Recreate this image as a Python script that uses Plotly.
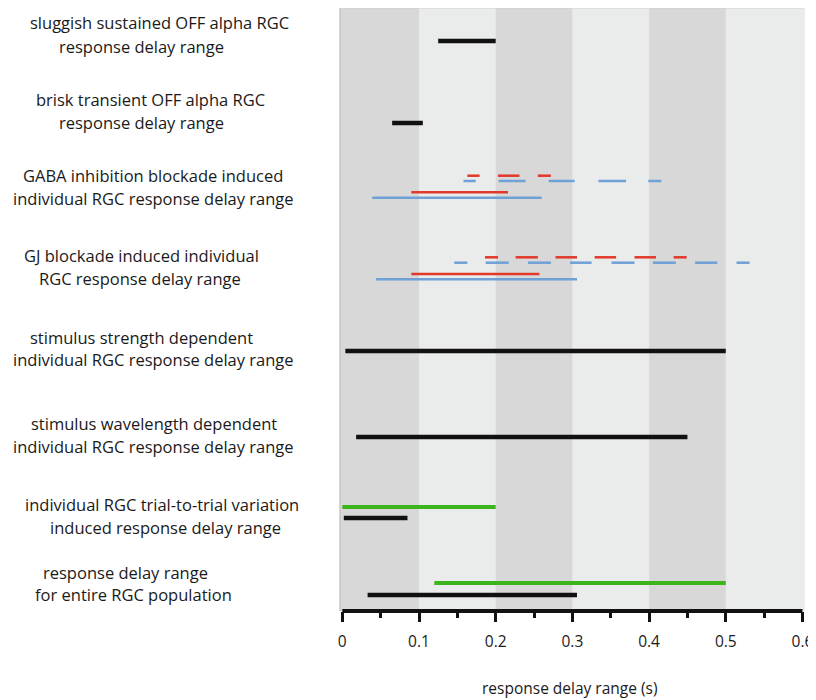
import plotly.graph_objects as go

# ---------------- data (response delay ranges, seconds) ----------------
sluggish_range = [0.125, 0.2]
brisk_range = [0.065, 0.105]

gaba_red_dash_start = [0.163, 0.203, 0.255]
gaba_red_dash_end = [0.179, 0.231, 0.272]
gaba_blue_dash_start = [0.158, 0.204, 0.269, 0.334, 0.399]
gaba_blue_dash_end = [0.174, 0.239, 0.303, 0.370, 0.416]
gaba_red_range = [0.090, 0.216]
gaba_blue_range = [0.039, 0.260]

gj_red_dash_start = [0.186, 0.226, 0.278, 0.329, 0.381, 0.432]
gj_red_dash_end = [0.203, 0.255, 0.306, 0.357, 0.409, 0.449]
gj_blue_dash_start = [0.146, 0.187, 0.242, 0.297, 0.351, 0.405, 0.460, 0.514]
gj_blue_dash_end = [0.163, 0.217, 0.272, 0.325, 0.381, 0.435, 0.489, 0.531]
gj_red_range = [0.090, 0.257]
gj_blue_range = [0.044, 0.306]

strength_range = [0.004, 0.5]
wavelength_range = [0.018, 0.45]
trial_green_range = [0.0, 0.2]
trial_black_range = [0.002, 0.085]
population_green_range = [0.12, 0.5]
population_black_range = [0.033, 0.306]

tick_values = [0, 0.1, 0.2, 0.3, 0.4, 0.5, 0.6]
tick_labels = ["0", "0.1", "0.2", "0.3", "0.4", "0.5", "0.6"]
minor_tick_values = [0.05, 0.15, 0.25, 0.35, 0.45, 0.55]
x_title = "response delay range (s)"

category_labels = [
    ["sluggish sustained OFF alpha RGC", "response delay range"],
    ["brisk transient OFF alpha RGC", "response delay range"],
    ["GABA inhibition blockade induced", "individual RGC response delay range"],
    ["GJ blockade induced individual", "RGC response delay range"],
    ["stimulus strength dependent", "individual RGC response delay range"],
    ["stimulus wavelength dependent", "individual RGC response delay range"],
    ["individual RGC trial-to-trial variation", "induced response delay range"],
    ["response delay range", "for entire RGC population"],
]

# ---------------- layout (page pixel positions, styles) ----------------
PAGE_OFF = 8                 # browser body margin around the plot div
W, H = 816 - PAGE_OFF, 700 - PAGE_OFF
PLOT_L, PLOT_R, PLOT_T, PLOT_B = 340, 805, 8, 611   # in page pixels
X_RANGE = [-0.003, 0.6033]

# lane positions along the vertical (page pixel units; y axis maps 1:1)
LANE = dict(
    sluggish=41, brisk=123,
    gaba_red_dash=175.7, gaba_blue_dash=181, gaba_red=192.3, gaba_blue=197.7,
    gj_red_dash=257.3, gj_blue_dash=262.7, gj_red=274, gj_blue=279.3,
    strength=351, wavelength=437,
    trial_green=507, trial_black=518,
    pop_green=583, pop_black=595,
)
LABEL_POS = [
    [(159.5, 22), (141, 46)],
    [(150, 99), (141, 122)],
    [(153, 175), (153, 198)],
    [(141, 255), (140, 278)],
    [(141, 337), (153, 359)],
    [(154, 423), (153, 446)],
    [(161.5, 504), (165, 527)],
    [(125, 572), (133, 594)],
]

BLACK = "#111111"
GREEN = "#3cb51c"
RED = "#e2392b"
BLUE = "#6fa0d6"
GRAY_BAND = "#d8d8d8"
LIGHT_BAND = "#eaeceb"
FONT = "Open Sans"
LABEL_SIZE = 16.5

fig = go.Figure()


def add_segments(starts, ends, lane, color, width):
    xs, ys = [], []
    for s, e in zip(starts, ends):
        xs += [s, e, None]
        ys += [lane, lane, None]
    fig.add_trace(go.Scatter(x=xs, y=ys, mode="lines",
                             line=dict(color=color, width=width),
                             hoverinfo="skip", showlegend=False))


def add_range(rng, lane, color, width):
    add_segments([rng[0]], [rng[1]], lane, color, width)


add_range(sluggish_range, LANE["sluggish"], BLACK, 4.5)
add_range(brisk_range, LANE["brisk"], BLACK, 4.5)

add_segments(gaba_red_dash_start, gaba_red_dash_end, LANE["gaba_red_dash"], RED, 2.5)
add_segments(gaba_blue_dash_start, gaba_blue_dash_end, LANE["gaba_blue_dash"], BLUE, 2.5)
add_range(gaba_red_range, LANE["gaba_red"], RED, 2.5)
add_range(gaba_blue_range, LANE["gaba_blue"], BLUE, 2.5)

add_segments(gj_red_dash_start, gj_red_dash_end, LANE["gj_red_dash"], RED, 2.5)
add_segments(gj_blue_dash_start, gj_blue_dash_end, LANE["gj_blue_dash"], BLUE, 2.5)
add_range(gj_red_range, LANE["gj_red"], RED, 2.5)
add_range(gj_blue_range, LANE["gj_blue"], BLUE, 2.5)

add_range(strength_range, LANE["strength"], BLACK, 4.5)
add_range(wavelength_range, LANE["wavelength"], BLACK, 4.5)
add_range(trial_green_range, LANE["trial_green"], GREEN, 4)
add_range(trial_black_range, LANE["trial_black"], BLACK, 4.5)
add_range(population_green_range, LANE["pop_green"], GREEN, 4)
add_range(population_black_range, LANE["pop_black"], BLACK, 4.5)

# background bands
shapes = []
bounds = [X_RANGE[0]] + tick_values[1:]
for i in range(len(bounds) - 1):
    if i % 2 == 0:
        shapes.append(dict(type="rect", xref="x", yref="paper",
                           x0=bounds[i], x1=bounds[i + 1], y0=0, y1=1,
                           fillcolor=GRAY_BAND, line=dict(width=0), layer="below"))
# thin frame lines at left and top
shapes.append(dict(type="line", xref="paper", yref="paper", x0=0, x1=0, y0=0, y1=1,
                   line=dict(color="#c6c6c6", width=1.5), layer="below"))
shapes.append(dict(type="line", xref="paper", yref="paper", x0=0, x1=0.997, y0=1, y1=1,
                   line=dict(color="#cfcfcf", width=1), layer="below"))
# bold axis line from 0 to 0.6
shapes.append(dict(type="line", xref="x", yref="paper", x0=tick_values[0], x1=tick_values[-1],
                   y0=0, y1=0, line=dict(color=BLACK, width=4), layer="above"))

annotations = []
for lines, poss in zip(category_labels, LABEL_POS):
    for text, (px, py) in zip(lines, poss):
        annotations.append(dict(
            text=text, xref="paper", yref="y",
            x=(px - PLOT_L) / (PLOT_R - PLOT_L), y=py,
            xanchor="center", yanchor="middle", showarrow=False,
            font=dict(family=FONT, size=LABEL_SIZE, color="#1a1a1a")))
annotations.append(dict(
    text=x_title, xref="paper", yref="paper",
    x=(570 - PLOT_L) / (PLOT_R - PLOT_L), y=-(688 - PLOT_B) / (PLOT_B - PLOT_T),
    xanchor="center", yanchor="middle", showarrow=False,
    font=dict(family=FONT, size=15.5, color="#1a1a1a")))

fig.update_layout(
    width=W, height=H,
    margin=dict(l=PLOT_L - PAGE_OFF, r=816 - PLOT_R, t=PLOT_T - PAGE_OFF,
                b=(PAGE_OFF + H) - PLOT_B, pad=0),
    paper_bgcolor="white", plot_bgcolor=LIGHT_BAND,
    shapes=shapes, annotations=annotations,
    xaxis=dict(range=X_RANGE, showgrid=False, zeroline=False, showline=False,
               tickmode="array", tickvals=tick_values, ticktext=tick_labels,
               ticks="outside", ticklen=10, tickwidth=3, tickcolor=BLACK,
               ticklabelstandoff=6, ticklabeloverflow="allow",
               minor=dict(tickmode="array", tickvals=minor_tick_values,
                          ticks="outside", ticklen=6, tickwidth=3, tickcolor=BLACK),
               tickfont=dict(family=FONT, size=15.5, color="#1a1a1a"),
               fixedrange=True),
    yaxis=dict(range=[PLOT_B, PLOT_T], showgrid=False, zeroline=False, showline=False,
               showticklabels=False, ticks="", fixedrange=True),
    showlegend=False,
)

fig.write_html("out.html")
